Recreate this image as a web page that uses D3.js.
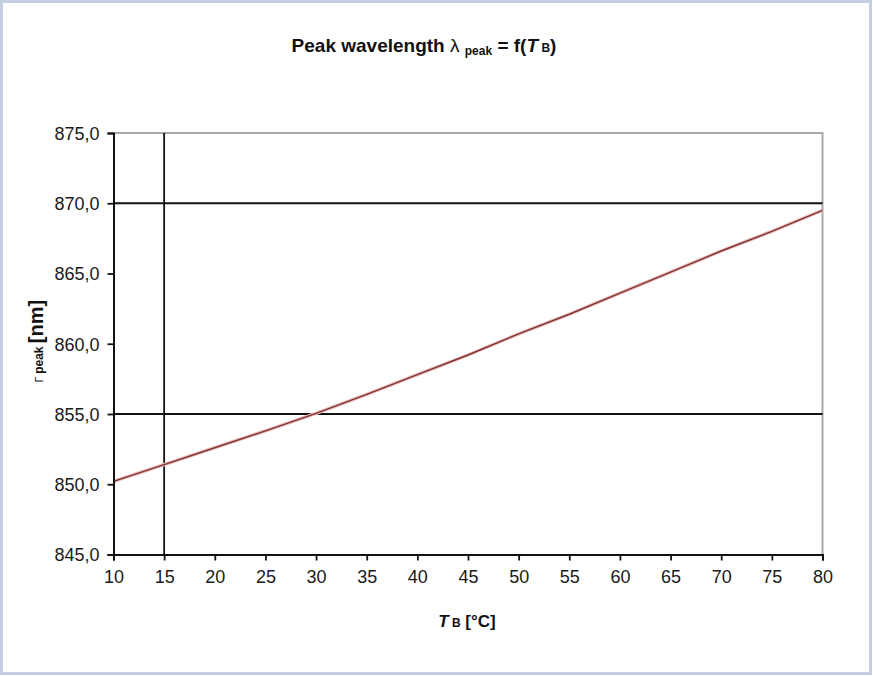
<!DOCTYPE html>
<html>
<head>
<meta charset="utf-8">
<script src="https://cdn.jsdelivr.net/npm/d3@7"></script>
<style>
  html, body { margin: 0; padding: 0; background: #fff; }
  svg { display: block; font-family: "Liberation Sans", Arial, sans-serif; }
</style>
</head>
<body>
<svg id="chart" width="873" height="676"></svg>
<script>
// Bath temperature T_B in °C
const temperatures = [10, 15, 20, 25, 30, 35, 40, 45, 50, 55, 60, 65, 70, 75, 80];
// Peak wavelength in nm
const peakWavelength = [850.2, 851.4, 852.6, 853.8, 855.05, 856.4, 857.8, 859.2, 860.7, 862.1, 863.6, 865.1, 866.6, 868.0, 869.5];
// Axis ticks
const xTicks = [10, 15, 20, 25, 30, 35, 40, 45, 50, 55, 60, 65, 70, 75, 80];
const yTicks = [845, 850, 855, 860, 865, 870, 875];
// Reference lines
const refWavelengths = [855, 870];
const refTemperatures = [15];

const svg = d3.select("#chart");
const W = 873, H = 676;
const plot = { left: 113.5, right: 822.5, top: 133, bottom: 554.5 };

// outer frame
svg.append("rect")
  .attr("x", 1.5).attr("y", 1.5).attr("width", W - 4).attr("height", H - 4)
  .attr("fill", "#fff").attr("stroke", "#c5cee3").attr("stroke-width", 3);

const x = d3.scaleLinear().domain([10, 80]).range([plot.left, plot.right]);
const y = d3.scaleLinear().domain([845, 875]).range([plot.bottom, plot.top]);

// plot area border (top / right)
svg.append("path")
  .attr("d", `M${plot.left},${plot.top}H${plot.right}V${plot.bottom}`)
  .attr("fill", "none").attr("stroke", "#a8a8a8").attr("stroke-width", 2);

// reference lines
svg.append("g").selectAll("line").data(refWavelengths).join("line")
  .attr("x1", plot.left).attr("x2", plot.right)
  .attr("y1", d => y(d)).attr("y2", d => y(d))
  .attr("stroke", "#111").attr("stroke-width", 1.8);
svg.append("g").selectAll("line").data(refTemperatures).join("line")
  .attr("x1", d => x(d)).attr("x2", d => x(d))
  .attr("y1", plot.top).attr("y2", plot.bottom)
  .attr("stroke", "#111").attr("stroke-width", 1.8);

// data line
const line = d3.line().x((d, i) => x(temperatures[i])).y(d => y(d));
svg.append("path")
  .datum(peakWavelength)
  .attr("d", line)
  .attr("fill", "none").attr("stroke", "#ecb8b8").attr("stroke-width", 3.4);
svg.append("path")
  .datum(peakWavelength)
  .attr("d", line)
  .attr("fill", "none").attr("stroke", "#7e3434").attr("stroke-width", 1.4);

// axes
const fmt = d => d3.format(".1f")(d).replace(".", ",");
const yAxis = svg.append("g")
  .attr("transform", `translate(${plot.left},0)`)
  .call(d3.axisLeft(y).tickValues(yTicks).tickFormat(fmt).tickSize(6).tickPadding(8));
const xAxis = svg.append("g")
  .attr("transform", `translate(0,${plot.bottom})`)
  .call(d3.axisBottom(x).tickValues(xTicks).tickSize(6).tickPadding(10));

[yAxis, xAxis].forEach(g => {
  g.select(".domain").attr("stroke", "#111").attr("stroke-width", 2);
  g.selectAll(".tick line").attr("stroke", "#111").attr("stroke-width", 1.8);
  g.selectAll(".tick text").attr("fill", "#1a1a1a").attr("font-size", 18)
    .attr("font-family", "Liberation Sans, Arial, sans-serif");
});
yAxis.selectAll(".tick text").attr("dy", "0.36em");

// title
const title = svg.append("text")
  .attr("x", 424).attr("y", 52)
  .attr("text-anchor", "middle")
  .attr("font-weight", "bold").attr("font-size", 19).attr("fill", "#111");
title.append("tspan").text("Peak wavelength ");
title.append("tspan").attr("font-weight", "normal").text("λ ");
title.append("tspan").attr("font-size", 12).attr("dy", 3).text("peak");
title.append("tspan").attr("dy", -3).text(" = f(");
title.append("tspan").attr("font-style", "italic").text("T");
title.append("tspan").attr("font-size", 12).text(" B");
title.append("tspan").text(")");

// x axis title
const xt = svg.append("text")
  .attr("x", 467).attr("y", 627)
  .attr("text-anchor", "middle")
  .attr("font-weight", "bold").attr("font-size", 17).attr("fill", "#111");
xt.append("tspan").attr("font-style", "italic").text("T");
xt.append("tspan").attr("font-size", 12).text(" B");
xt.append("tspan").text(" [°C]");

// y axis title
const yt = svg.append("text")
  .attr("transform", "translate(43,341) rotate(-90)")
  .attr("text-anchor", "middle")
  .attr("font-weight", "bold").attr("font-size", 20).attr("fill", "#111");
yt.append("tspan").attr("font-size", 10).attr("font-weight", "normal").text("Γ ");
yt.append("tspan").attr("font-size", 12).text("peak ");
yt.append("tspan").text("[nm]");
</script>
</body>
</html>
